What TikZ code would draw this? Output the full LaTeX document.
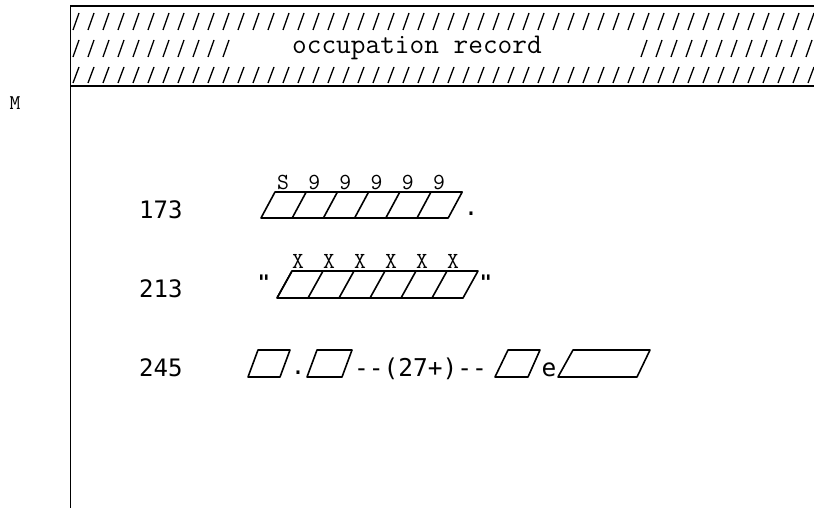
\documentclass[tikz,border=0pt]{standalone}
\usepackage{fontspec}
\newfontfamily\dmono{DejaVu Sans Mono}
\begin{document}
\begin{tikzpicture}[x=1pt,y=-1pt,
  frame/.style={line width=1.3pt,black},
  hatch/.style={line width=1.3pt,black},
  cellbox/.style={line width=1.6pt,black,line join=round},
  picchar/.style={font=\ttfamily\fontsize{23}{23}\selectfont,inner sep=0pt},
  lbl/.style={font=\dmono\fontsize{24}{24}\selectfont,inner sep=0pt,anchor=base west},
  hdr/.style={font=\ttfamily\fontsize{28.5}{28.5}\selectfont,inner sep=0pt,anchor=base west},
  seq/.style={font=\dmono\fontsize{24.5}{24.5}\selectfont,inner sep=0pt,anchor=base west}]
\useasboundingbox (0,0) rectangle (814,508);
\fill[white] (0,0) rectangle (814,508);
% frame
\coordinate (tl) at (70.7,6);
\coordinate (tr) at (814,6);
\coordinate (hl) at (70.7,86);
\coordinate (hr) at (814,86);
\coordinate (bl) at (70.7,508);
\draw[frame] (tr) -- (tl) -- (bl);
\draw[line width=2pt] (hl) -- (hr);
% hatching rows
\foreach \i in {0,...,49}{
  \draw[hatch] ({73+15*\i},30) -- ({79+15*\i},13);
  \draw[hatch] ({73+15*\i},83) -- ({79+15*\i},67);
}
\foreach \i in {0,...,10}{
  \draw[hatch] ({73+15*\i},57) -- ({79+15*\i},40);
}
\foreach \i in {0,...,11}{
  \draw[hatch] ({641+15*\i},57) -- ({647+15*\i},40);
}
\node[hdr] (title) at (292,54) {occupation record};
% M
\node[font=\ttfamily\fontsize{21}{21}\selectfont,inner sep=0pt] (m) at (15,103.5) {M};
% line numbers
\node[lbl] (n173) at (139,218) {173};
\node[lbl] (n213) at (139,297) {213};
\node[lbl] (n245) at (139,376) {245};
% row 1: S99999
\draw[cellbox] (261,218) -- (275,192) -- ({275+6*31.2},192) -- ({261+6*31.2},218) -- cycle;
\foreach \i in {1,...,5}{
  \draw[cellbox] ({261+31.2*\i},218) -- ({275+31.2*\i},192);
}
\foreach \c [count=\i from 0] in {S,9,9,9,9,9}{
  \node[picchar] (p\i) at ({283+31.2*\i},182) {\c};
}
\node[font=\dmono\fontsize{24}{24}\selectfont,inner sep=0pt,anchor=base] (dot1) at (471,215) {.};
% row 2: XXXXXX
\draw[cellbox] (277,298) -- (292,271) -- ({292+6*31},271) -- ({277+6*31},298) -- cycle;
\foreach \i in {0,...,5}{
  \draw[cellbox] ({277+31*\i},298) -- ({292+31*\i},271);
}
\foreach \i in {0,...,5}{
  \node[picchar] (x\i) at ({298+31*\i},261) {X};
}
\node[font=\dmono\bfseries\fontsize{20}{20}\selectfont,inner sep=0pt,anchor=north] (q1) at (264,275) {"};
\node[font=\dmono\bfseries\fontsize{20}{20}\selectfont,inner sep=0pt,anchor=north] (q2) at (486,275) {"};
% row 3
\draw[cellbox] (248,377) -- (258,350) -- (290,350) -- (280,377) -- cycle;
\node[font=\dmono\fontsize{24}{24}\selectfont,inner sep=0pt,anchor=base] (dot2) at (298,374) {.};
\draw[cellbox] (307,377) -- (317,350) -- (352,350) -- (342,377) -- cycle;
\node[seq] (exp) at (354,376) {--(27+)--};
\draw[cellbox] (495,377) -- (508,350) -- (540,350) -- (528,377) -- cycle;
\node[seq,anchor=base] (e) at (549,376) {e};
\draw[cellbox] (558,377) -- (573,350) -- (650,350) -- (637,377) -- cycle;
\end{tikzpicture}
\end{document}
